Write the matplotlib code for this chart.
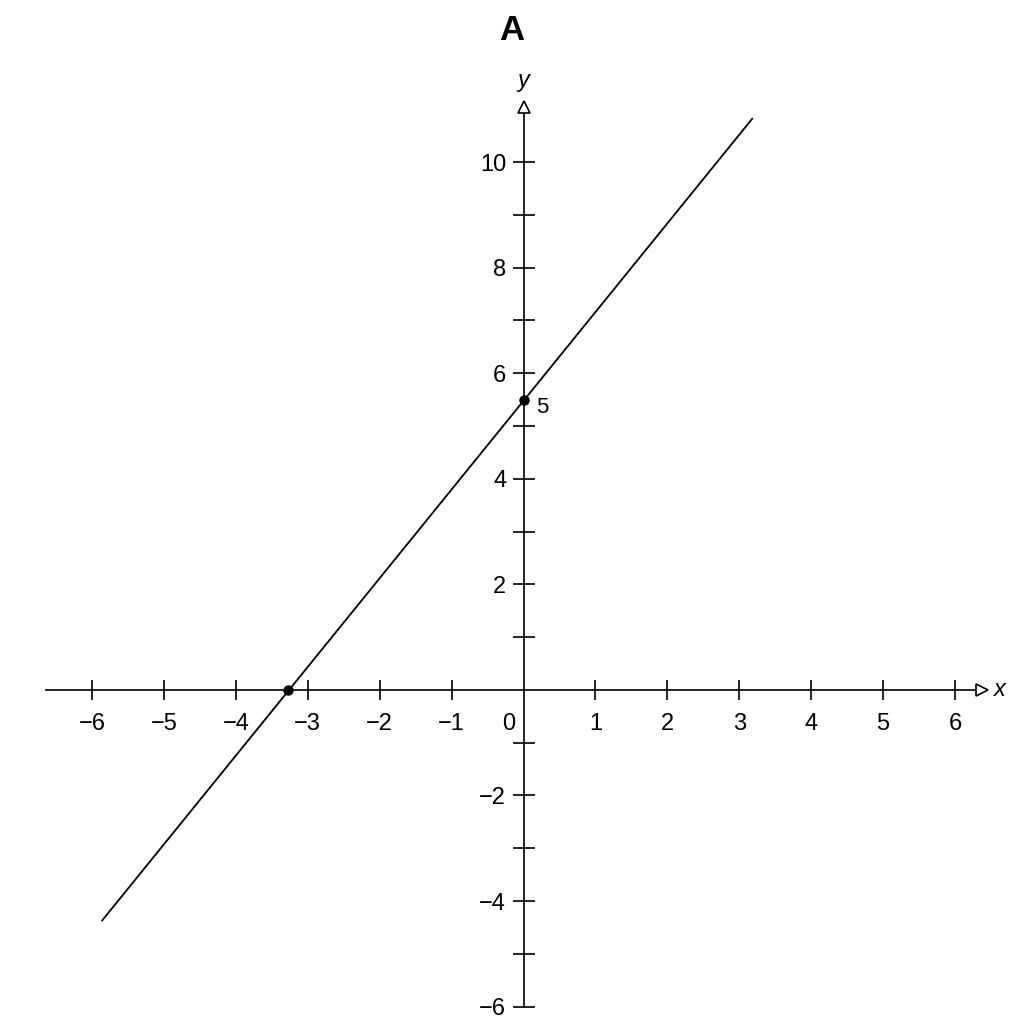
import numpy as np
import matplotlib.pyplot as plt

plt.rcParams['font.family'] = ['Liberation Sans', 'DejaVu Sans']

## data
line_x = [-5.86, 3.18]
line_y = [-4.37, 10.82]
pts_x = [-3.27, 0.0]
pts_y = [0.0, 5.49]
pt_label = "5"
x_ticks = [-6, -5, -4, -3, -2, -1, 1, 2, 3, 4, 5, 6]
y_ticks = [-6, -5, -4, -3, -2, -1, 1, 2, 3, 4, 5, 6, 7, 8, 9, 10]
y_labels = ['' if t % 2 else str(t).replace('-', '\u2212') for t in y_ticks]

## plot config
fig = plt.figure(figsize=(10.24, 10.24), dpi=100)
ax = fig.add_axes([0, 0, 1, 1])
ax.set_xlim(-7.28, 6.96)
ax.set_ylim(-6.33, 13.07)

for loc in ['top', 'right']:
    ax.spines[loc].set_color('none')
ax.spines['left'].set_position('zero')
ax.spines['bottom'].set_position('zero')
ax.spines['left'].set_bounds(-6, 10.93)
ax.spines['bottom'].set_bounds(-6.64, 6.29)
for loc in ['left', 'bottom']:
    ax.spines[loc].set_linewidth(1.2)

ax.set_xticks(x_ticks)
ax.set_xticklabels([str(t).replace('-', '\u2212') for t in x_ticks])
ax.set_yticks(y_ticks)
ax.set_yticklabels(y_labels)
ax.tick_params(axis='x', direction='inout', length=14, width=1.2,
               pad=10, labelsize=17)
ax.tick_params(axis='y', direction='inout', length=16, width=1.2,
               pad=4.5, labelsize=17)
ax.patch.set_alpha(0)

# origin label, off to the left of the y axis
ax.annotate('0', xy=(0, 0), xytext=(-11, -17), textcoords='offset points',
            ha='center', va='top', fontsize=17)

# arrow heads (open triangles)
ax.plot([6.37], [0], marker='>', ms=9, mfc='white', mec='k', mew=1.2,
        clip_on=False, zorder=5)
ax.plot([0], [11.04], marker='^', ms=9, mfc='white', mec='k', mew=1.2,
        clip_on=False, zorder=5)
ax.text(6.63, 0, 'x', style='italic', fontsize=17, ha='center', va='center')
ax.text(0, 11.55, 'y', style='italic', fontsize=17, ha='center', va='center')

# the line and its points
ax.plot(line_x, line_y, color='k', lw=1.3, zorder=6)
ax.plot(pts_x, pts_y, 'o', color='k', ms=6.5, zorder=7)
ax.annotate(pt_label, xy=(pts_x[1], pts_y[1]), xytext=(13.5, -5),
            textcoords='offset points', ha='center', va='center', fontsize=16)

fig.text(0.5, 0.97, 'A', fontsize=25, fontweight='bold',
         ha='center', va='center')

fig.savefig('out.png', dpi=100, facecolor='white')
